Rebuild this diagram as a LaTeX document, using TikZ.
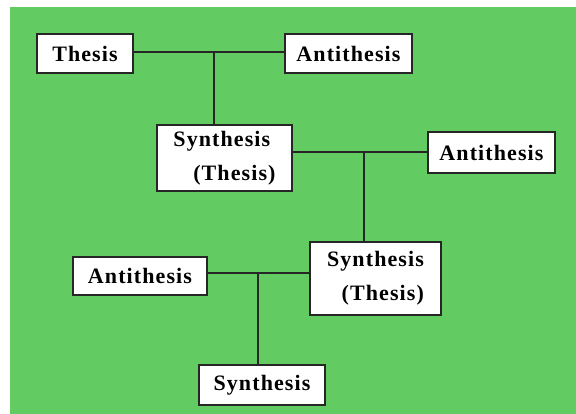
\documentclass[tikz,border=0pt]{standalone}
\usepackage{fontspec}
\setmainfont{Liberation Serif}[LetterSpace=5]
\definecolor{bggreen}{RGB}{98,203,98}
\tikzset{
  box/.style={draw=black!85, fill=white, line width=1.8pt, inner sep=0pt,
    font=\fontsize{22}{34}\selectfont\bfseries},
  link/.style={draw=black!85, line width=2pt}
}
\begin{document}
\begin{tikzpicture}[x=1pt, y=-1pt]
    \useasboundingbox (0,0) rectangle (576,414);
    \fill[white] (0,0) rectangle (576,414);
    \fill[bggreen] (10,7) rectangle (576,414);

    \node[box, minimum width=96pt, minimum height=39pt] (thesis) at (85,53.5) {Thesis};
    \node[box, minimum width=127pt, minimum height=39pt] (anti1) at (348.5,53.5) {Antithesis};
    \node[box, minimum width=135pt, minimum height=66pt, align=left] (syn1) at (224.5,158) {Synthesis\\\hspace*{0.9em}(Thesis)};
    \node[box, minimum width=127pt, minimum height=41pt] (anti2) at (491.5,152.5) {Antithesis};
    \node[box, minimum width=131pt, minimum height=73pt, align=right] (syn2) at (375.5,278.5) {Synthesis\\(Thesis)};
    \node[box, minimum width=134pt, minimum height=38pt] (anti3) at (140,276) {Antithesis};
    \node[box, minimum width=126pt, minimum height=40pt] (syn3) at (262,385) {Synthesis};

    \coordinate (j1) at (214,52);
    \coordinate (j2) at (364,152.5);
    \coordinate (j3) at (258,273);

    \draw[link] (thesis.east |- j1) -- (anti1.west |- j1);
    \draw[link] (j1) -- (j1 |- syn1.north);
    \draw[link] (anti2.west) -- (anti2.west -| syn1.east);
    \draw[link] (j2) -- (j2 |- syn2.north);
    \draw[link] (anti3.east |- j3) -- (syn2.west |- j3);
    \draw[link] (j3) -- (j3 |- syn3.north);
\end{tikzpicture}
\end{document}
